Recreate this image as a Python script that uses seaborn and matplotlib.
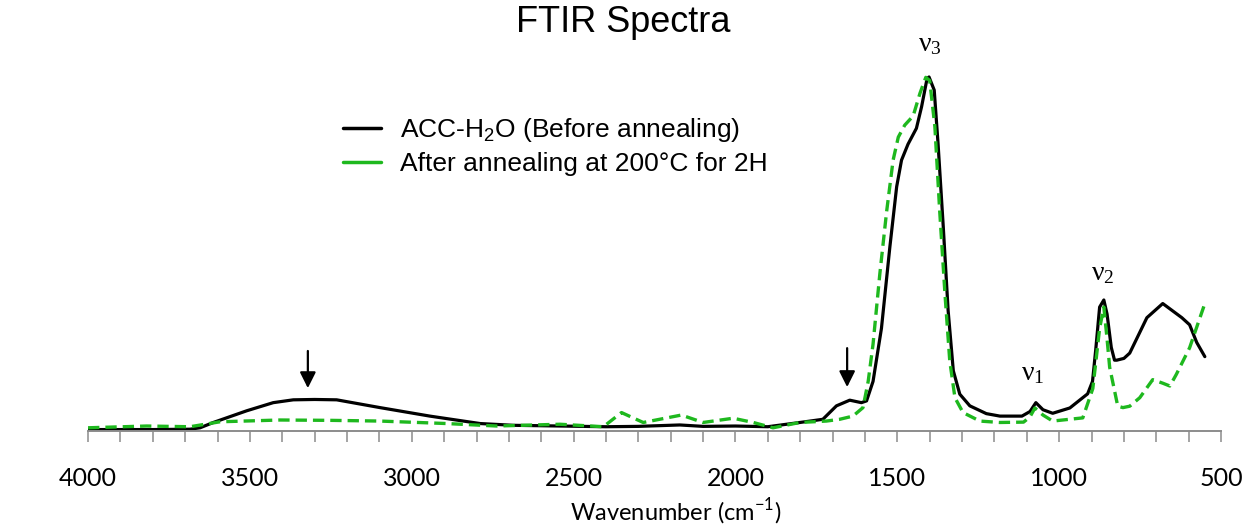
# FTIR spectra: ACC-H2O before / after annealing

import pandas as pd
import seaborn as sns
import matplotlib.pyplot as plt
from matplotlib.lines import Line2D
from matplotlib.ticker import MultipleLocator

# wavenumber (cm-1) and absorbance (normalised)
black_wn = [4000, 3800, 3685, 3654, 3613, 3510, 3428, 3366, 3300, 3232,
            3098, 2944, 2789, 2686, 2542, 2400, 2300, 2172, 2100, 2000,
            1900, 1801, 1730, 1688, 1647, 1611, 1595, 1575, 1549, 1523,
            1502, 1487, 1467, 1441, 1425, 1408, 1402, 1386, 1374, 1358,
            1343, 1327, 1307, 1276, 1225, 1183, 1115, 1090, 1072, 1050,
            1020, 967, 912, 897, 887, 875, 862, 852, 839, 829,
            822, 800, 782, 729, 680, 621, 597, 575, 550]
black_ab = [0.004, 0.004, 0.005, 0.009, 0.024, 0.057, 0.080, 0.088, 0.089, 0.088,
            0.066, 0.042, 0.021, 0.016, 0.014, 0.012, 0.013, 0.017, 0.013, 0.014,
            0.012, 0.024, 0.033, 0.071, 0.087, 0.080, 0.085, 0.14, 0.29, 0.52,
            0.69, 0.765, 0.81, 0.855, 0.916, 0.996, 1.0, 0.963, 0.81, 0.576,
            0.34, 0.17, 0.104, 0.071, 0.049, 0.042, 0.042, 0.055, 0.080, 0.060,
            0.05, 0.065, 0.105, 0.14, 0.23, 0.35, 0.37, 0.33, 0.236, 0.20,
            0.20, 0.205, 0.22, 0.32, 0.36, 0.32, 0.30, 0.25, 0.21]

green_wn = [4000, 3819, 3685, 3592, 3407, 3250, 3098, 2892, 2738, 2542,
            2408, 2352, 2285, 2167, 2100, 2007, 1945, 1884, 1801, 1719,
            1678, 1637, 1606, 1590, 1575, 1554, 1533, 1513, 1497, 1477,
            1451, 1430, 1412, 1400, 1384, 1369, 1353, 1338, 1322, 1297,
            1245, 1183, 1110, 1090, 1075, 1050, 1020, 927, 896, 875,
            862, 852, 844, 819, 803, 782, 751, 711, 680, 658,
            638, 597, 550]
green_ab = [0.009, 0.014, 0.012, 0.026, 0.031, 0.030, 0.028, 0.021, 0.014, 0.019,
            0.012, 0.052, 0.024, 0.045, 0.024, 0.036, 0.024, 0.009, 0.024, 0.028,
            0.033, 0.042, 0.066, 0.14, 0.245, 0.444, 0.62, 0.765, 0.83, 0.864,
            0.89, 0.954, 0.999, 0.99, 0.86, 0.62, 0.39, 0.198, 0.094, 0.052,
            0.028, 0.024, 0.025, 0.04, 0.065, 0.045, 0.028, 0.037, 0.12, 0.29,
            0.35, 0.26, 0.18, 0.07, 0.066, 0.07, 0.094, 0.145, 0.135, 0.127,
            0.16, 0.235, 0.36]

series_labels = ['ACC-H$\\mathregular{_2}$O (Before annealing)',
                 'After annealing at 200°C for 2H']

# band labels and arrow marks
band_text = ['ν$\\mathregular{_3}$', 'ν$\\mathregular{_2}$', 'ν$\\mathregular{_1}$']
band_wn = [1400, 865, 1082]
band_y = [1.074, 0.427, 0.144]
arrow_wn = [3321, 1655]
arrow_top = [0.226, 0.234]
arrow_tip = [0.121, 0.124]

df_black = pd.DataFrame({'wn': black_wn, 'ab': black_ab})
df_green = pd.DataFrame({'wn': green_wn, 'ab': green_ab})

GREEN = '#1EB81E'

sns.set_style('white')
plt.rcParams['font.family'] = ['Liberation Sans', 'DejaVu Sans']
plt.rcParams['text.color'] = 'black'
plt.rcParams['axes.labelcolor'] = 'black'
plt.rcParams['xtick.color'] = 'black'

fig = plt.figure(figsize=(12.58, 5.29), dpi=100)
ax = fig.add_axes([0.0700, 0.1853, 0.9006, 0.7013])

sns.lineplot(data=df_black, x='wn', y='ab', ax=ax, color='black', lw=2.3,
             estimator=None, errorbar=None, sort=False)
sns.lineplot(data=df_green, x='wn', y='ab', ax=ax, color=GREEN, lw=2.4,
             linestyle=(0, (3.4, 1.8)), estimator=None, errorbar=None, sort=False)

ax.set_xlim(4000, 500)
ax.set_ylim(0, 1.048)
ax.xaxis.set_major_locator(MultipleLocator(500))
ax.xaxis.set_minor_locator(MultipleLocator(100))
ax.set_yticks([])
ax.set_ylabel('')
ax.set_xlabel('Wavenumber (cm$^{\\mathregular{-1}}$)', family='Lato', fontsize=17)
ax.xaxis.set_label_coords(0.519, -0.175)
sns.despine(ax=ax, left=True)
ax.spines['bottom'].set_color('#8c8c8c')
ax.spines['bottom'].set_linewidth(1.4)
ax.tick_params(axis='x', which='both', direction='out', length=8, width=1.1,
               color='#8c8c8c', labelcolor='black', bottom=True)
ax.tick_params(axis='x', which='major', pad=18, labelsize=18)
for lab in ax.get_xticklabels():
    lab.set_family('Lato')

for t, w, y in zip(band_text, band_wn, band_y):
    ax.text(w, y, t, ha='center', va='baseline', fontsize=20,
            family='Liberation Serif', clip_on=False)

for w, y0, y1 in zip(arrow_wn, arrow_top, arrow_tip):
    ax.annotate('', xy=(w, y1), xytext=(w, y0),
                arrowprops=dict(arrowstyle='-|>', color='black', lw=1.6,
                                mutation_scale=24, shrinkA=0, shrinkB=0))

handles = [Line2D([], [], color='black', lw=2.5),
           Line2D([], [], color=GREEN, lw=2.5)]
ax.legend(handles, series_labels, loc='upper left', frameon=False,
          bbox_to_anchor=(343 / 1258, 1 - 116 / 529), bbox_transform=fig.transFigure,
          borderpad=0, borderaxespad=0, fontsize=19, labelspacing=0.3,
          handlelength=1.45, handletextpad=0.7)

fig.text(623 / 1258, 1 - 23 / 529, 'FTIR Spectra', ha='center', va='center',
         fontsize=26)

plt.savefig('out.png', dpi=100)
